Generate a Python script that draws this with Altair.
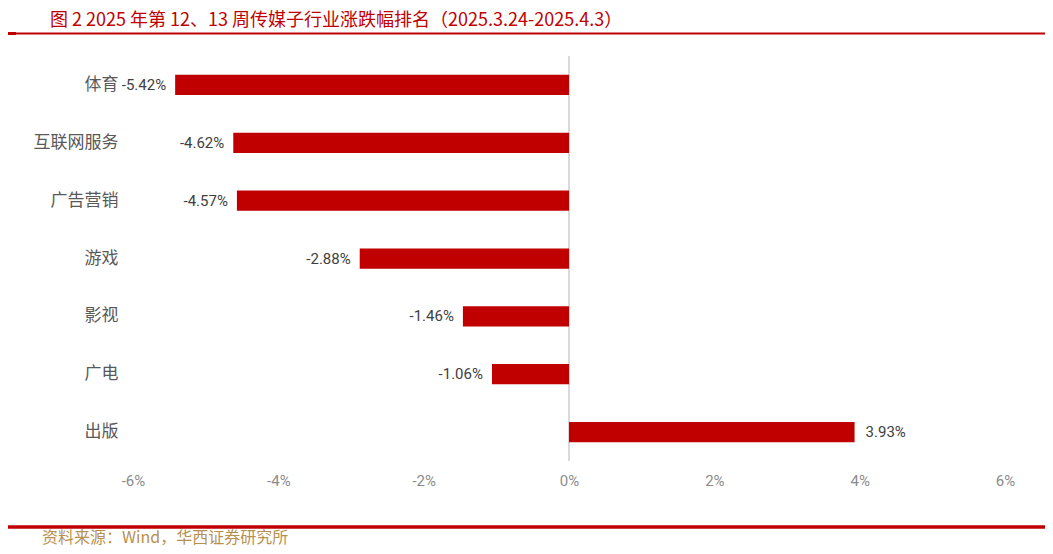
import altair as alt
import pandas as pd

# Data
industries = ["体育", "互联网服务", "广告营销", "游戏", "影视", "广电", "出版"]
changes = [-5.42, -4.62, -4.57, -2.88, -1.46, -1.06, 3.93]

title_text = "图 2 2025 年第 12、13 周传媒子行业涨跌幅排名（2025.3.24-2025.4.3）"
source_text = "资料来源：Wind，华西证券研究所"

RED = "#c00000"
CJK = "Noto Sans CJK SC"
NUM = "Liberation Sans Narrow, Roboto, Noto Sans"

W, H = 872, 405
LEFT, TOP = 125, 48

df = pd.DataFrame({"industry": industries, "change": changes})
df["label"] = [f"{v:.2f}%" for v in changes]

y_enc = alt.Y(
    "industry:N",
    sort=industries,
    scale=alt.Scale(paddingInner=0.65, paddingOuter=0.325),
    axis=alt.Axis(
        title=None,
        ticks=False,
        domain=False,
        labelFont=CJK,
        labelFontSize=17,
        labelColor="#595959",
        labelPadding=15,
    ),
)

x_enc = alt.X(
    "change:Q",
    scale=alt.Scale(domain=[-6, 6], nice=False),
    axis=alt.Axis(
        title=None,
        values=[-6, -4, -2, 0, 2, 4, 6],
        labelExpr="datum.value + '%'",
        labelFlush=False,
        ticks=False,
        domain=False,
        grid=False,
        labelFont=NUM,
        labelFontSize=15,
        labelColor="#8c8c8c",
        labelPadding=12,
    ),
)

base = alt.Chart(df)
one = alt.Chart(pd.DataFrame({"k": [0]}))

bars = base.mark_bar(color=RED).encode(x=x_enc, x2=alt.datum(0), y=y_enc)

zero_line = one.mark_rule(color="#d9d9d9", strokeWidth=2).encode(
    x=alt.datum(0), y=alt.value(0), y2=alt.value(H)
)

neg_labels = (
    base.transform_filter("datum.change < 0")
    .mark_text(align="right", baseline="middle", dx=-9, font=NUM, fontSize=15, color="#404040")
    .encode(x="change:Q", y=alt.Y("industry:N", sort=industries), text="label:N")
)
pos_labels = (
    base.transform_filter("datum.change >= 0")
    .mark_text(align="left", baseline="middle", dx=11, font=NUM, fontSize=15, color="#404040")
    .encode(x="change:Q", y=alt.Y("industry:N", sort=industries), text="label:N")
)

# Header and footer decorations (one row each so nothing is overdrawn)
title = one.mark_text(
    align="left", baseline="middle", font=CJK, fontSize=18, fontWeight="normal", color=RED
).encode(x=alt.value(50 - 8 - LEFT), y=alt.value(21 - 8 - TOP), text=alt.value(title_text))

title_rule = one.mark_rule(color=RED, strokeWidth=2).encode(
    x=alt.value(5 - 8 - LEFT), x2=alt.value(1045 - 8 - LEFT), y=alt.value(33.5 - 8 - TOP)
)
title_tab = one.mark_rule(color=RED, strokeWidth=3).encode(
    x=alt.value(5 - 8 - LEFT), x2=alt.value(16 - 8 - LEFT), y=alt.value(33.5 - 8 - TOP)
)
footer_rule = one.mark_rule(color=RED, strokeWidth=3.5).encode(
    x=alt.value(5 - 8 - LEFT), x2=alt.value(1047 - 8 - LEFT), y=alt.value(527 - 8 - TOP)
)
source = one.mark_text(
    align="left", baseline="middle", font=CJK, fontSize=16, fontWeight="normal", color="#b8904f"
).encode(x=alt.value(42 - 8 - LEFT), y=alt.value(537.5 - 8 - TOP), text=alt.value(source_text))

chart = (
    alt.layer(zero_line, bars, neg_labels, pos_labels, title, title_rule, title_tab, footer_rule, source)
    .properties(
        width=W,
        height=H,
        background="white",
        autosize=alt.AutoSizeParams(type="none"),
        padding={"left": LEFT, "top": TOP, "right": 1037 - LEFT - W, "bottom": 538 - TOP - H},
    )
    .configure_view(strokeWidth=0)
)

chart.save("out.html", embed_options={"renderer": "svg", "actions": False})
